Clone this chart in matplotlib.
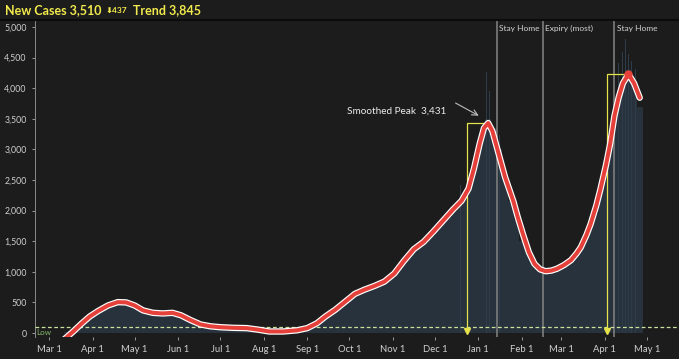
import matplotlib
matplotlib.use("Agg")
import matplotlib.pyplot as plt
import matplotlib.dates as mdates
import matplotlib.ticker as mticker
import pandas as pd

plt.rcParams['font.family'] = ['Lato', 'DejaVu Sans']

# smoothed trend (7-day style)
trend_dates = ["2020-03-12", "2020-03-18", "2020-03-24", "2020-03-30", "2020-04-05", "2020-04-12",
               "2020-04-19", "2020-04-25", "2020-05-01", "2020-05-07", "2020-05-14", "2020-05-21",
               "2020-05-28", "2020-06-03", "2020-06-10", "2020-06-17", "2020-06-24", "2020-07-01",
               "2020-07-10", "2020-07-20", "2020-07-28", "2020-08-05", "2020-08-15", "2020-08-25",
               "2020-09-01", "2020-09-08", "2020-09-14", "2020-09-21", "2020-09-28", "2020-10-05",
               "2020-10-12", "2020-10-19", "2020-10-26", "2020-11-02", "2020-11-09", "2020-11-16",
               "2020-11-23", "2020-11-30", "2020-12-07", "2020-12-14", "2020-12-20", "2020-12-25",
               "2020-12-29", "2021-01-02", "2021-01-05", "2021-01-08", "2021-01-11", "2021-01-14",
               "2021-01-17", "2021-01-20", "2021-01-23", "2021-01-26", "2021-01-29", "2021-02-02",
               "2021-02-06", "2021-02-10", "2021-02-14", "2021-02-18", "2021-02-22", "2021-02-26",
               "2021-03-03", "2021-03-08", "2021-03-12", "2021-03-15", "2021-03-19", "2021-03-22",
               "2021-03-26", "2021-03-29", "2021-04-02", "2021-04-05", "2021-04-08", "2021-04-11",
               "2021-04-14", "2021-04-18", "2021-04-22", "2021-04-26"]
trend_vals = [-100, 20, 150, 270, 360, 450,
              505, 500, 450, 370, 330, 320,
              330, 290, 210, 140, 110, 95,
              85, 80, 55, 25, 25, 45,
              80, 160, 270, 380, 510, 640,
              710, 770, 840, 970, 1180, 1370,
              1490, 1660, 1840, 2020, 2160, 2360,
              2700, 3100, 3350, 3431, 3300, 3050,
              2800, 2550, 2350, 2150, 1900, 1600,
              1320, 1130, 1040, 1010, 1020, 1050,
              1110, 1190, 1300, 1400, 1600, 1780,
              2080, 2350, 2750, 3100, 3550, 3850,
              4080, 4230, 4080, 3845]

# new cases, 4-day blocks starting 2020-03-12
bar_start = "2020-03-12"
bar_vals = [20, 60, 130, 210, 290, 350, 400, 450, 480, 520, 500, 470,
            420, 380, 340, 320, 300, 310, 320, 330, 290, 240, 190, 150,
            120, 100, 95, 90, 85, 80, 80, 75, 75, 60, 50, 30,
            25, 20, 20, 25, 30, 40, 55, 80, 130, 180, 240, 300,
            360, 440, 520, 600, 660, 700, 730, 760, 800, 840, 900, 1020,
            1150, 1260, 1360, 1420, 1500, 1580, 1680, 1790, 1900, 2000, 2100, 2220,
            2450, 2900, 3300, 3500, 3350, 3000, 2550, 2150, 1850, 1500, 1300, 1150,
            1050, 1000, 1000, 1030, 1080, 1150, 1250, 1350, 1500, 1700, 1950, 2300,
            2800, 3300, 3800, 4100, 4300, 4000, 3700]

# single days that stick out above the blocks
spike_dates = ["2020-12-19", "2021-01-07", "2021-01-09", "2021-01-16",
               "2021-04-11", "2021-04-14", "2021-04-16", "2021-04-18", "2021-04-20", "2021-04-23"]
spike_vals = [2420, 4260, 3950, 3240, 4420, 4600, 4800, 4560, 4440, 4320]

peak_dates = ["2021-01-08", "2021-04-18"]
peak_vals = [3431, 4230]
bracket_dates = ["2020-12-24", "2021-04-03"]

event_dates = ["2021-01-14", "2021-02-16", "2021-04-08"]
event_labels = ["Stay Home", "Expiry (most)", "Stay Home"]

title_parts = ["New Cases 3,510", "\u2b07437", "Trend 3,845"]

low_level = 100
month_ticks = ["2020-03-01", "2020-04-01", "2020-05-01", "2020-06-01", "2020-07-01", "2020-08-01",
               "2020-09-01", "2020-10-01", "2020-11-01", "2020-12-01", "2021-01-01", "2021-02-01",
               "2021-03-01", "2021-04-01", "2021-05-01"]

bg = "#1c1c1c"
W, H = 679, 359
fig = plt.figure(figsize=(W / 100, H / 100), dpi=100, facecolor=bg)
ax = fig.add_axes([35 / W, 1 - 337 / H, 1 - 35 / W, 317 / H])
ax.set_facecolor(bg)

bar_x = pd.date_range(bar_start, periods=len(bar_vals), freq="4D")
ax.bar(bar_x, bar_vals, width=4.05, align="edge", color="#27323d", lw=0, zorder=1)
ax.bar(pd.to_datetime(spike_dates), spike_vals, width=0.8, color="#2f3c4a", lw=0, zorder=1)

for d, lab in zip(event_dates, event_labels):
    ax.axvline(pd.Timestamp(d), color="#7d7d7d", lw=1.2, zorder=2)
    ax.text(pd.Timestamp(d) + pd.Timedelta(days=1.5), 4980, lab, color="#d4d4d4",
            fontsize=6, va="center", ha="left", zorder=6)

ax.axhline(low_level, color="#c9e29b", lw=0.9, ls=(0, (3, 2)), zorder=3)
ax.text(pd.Timestamp("2020-02-21"), low_level - 40, "Low", color="#86b86a", fontsize=5.8,
        va="top", ha="left", zorder=6)

yel = "#e6e24a"
for pd_, pv, bd in zip(peak_dates, peak_vals, bracket_dates):
    ax.plot([pd.Timestamp(bd), pd.Timestamp(bd), pd.Timestamp(pd_)], [0, pv, pv],
            color=yel, lw=0.9, zorder=3)
    ax.plot(pd.Timestamp(bd), 30, marker="v", color=yel, ms=4, zorder=3)

tx = pd.to_datetime(trend_dates)
ax.plot(tx, trend_vals, color="white", lw=4.6, solid_capstyle="round",
        solid_joinstyle="round", zorder=4)
ax.plot(tx, trend_vals, color="#e5403a", lw=2.9, solid_capstyle="round",
        solid_joinstyle="round", zorder=5)
ax.plot(pd.Timestamp(peak_dates[1]), peak_vals[1], "o", color="#e5403a", ms=5, zorder=5)

ax.text(pd.Timestamp("2020-12-09"), 3620, "Smoothed Peak  3,431", color="#ececec",
        fontsize=7.2, ha="right", va="center", zorder=6)
ax.annotate("", xy=(pd.Timestamp("2021-01-03"), 3530),
            xytext=(pd.Timestamp("2020-12-14"), 3780),
            arrowprops=dict(arrowstyle="->", color="#bdbdbd", lw=0.8), zorder=6)

ax.set_xlim(pd.Timestamp("2020-02-20"), pd.Timestamp("2021-05-24"))
ax.set_ylim(-65, 5115)
ax.set_xticks(pd.to_datetime(month_ticks))
ax.xaxis.set_major_formatter(mdates.DateFormatter("%b %-d"))
ax.yaxis.set_major_locator(mticker.MultipleLocator(500))
ax.yaxis.set_major_formatter(mticker.FuncFormatter(lambda v, p: f"{int(v):,}"))
ax.tick_params(colors="#9a9a9a", labelcolor="#cfcfcf", labelsize=6.3, length=2.5, width=0.7)
ax.tick_params(axis="x", labelsize=6.8, pad=3)
for s in ["top", "right", "bottom"]:
    ax.spines[s].set_visible(False)
ax.spines["left"].set_color("#8a8a8a")
ax.spines["left"].set_linewidth(0.7)

# title band, pieces laid out one after another
fig.add_artist(plt.Line2D([0, 1], [1 - 19.5 / H, 1 - 19.5 / H], color="#0c0c0c", lw=1.5))
renderer = fig.canvas.get_renderer()
x_px = 5
for txt, size, gap in zip(title_parts, [9.0, 6.0, 9.0], [4, 6, 0]):
    t = fig.text(x_px / W, 1 - 10 / H, txt, color="#f2ea4c", fontsize=size,
                 fontweight="bold", va="center", ha="left")
    x_px = t.get_window_extent(renderer).x1 + gap

fig.savefig("out.png", dpi=100, facecolor=bg)
